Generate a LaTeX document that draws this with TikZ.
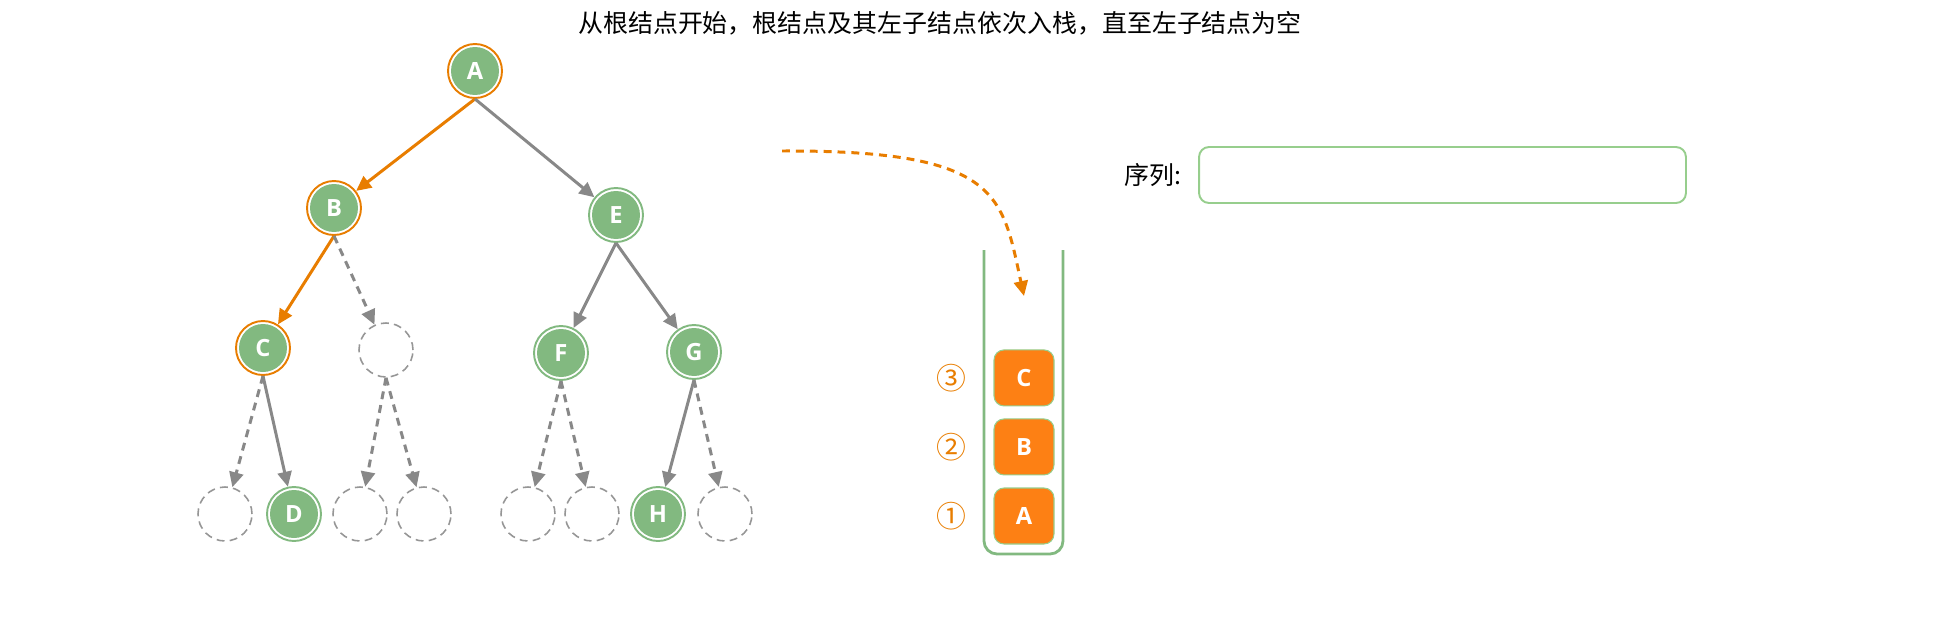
\documentclass[tikz,border=0pt]{standalone}
\usepackage{fontspec}
\setsansfont{Open Sans}
\newfontfamily\cjk{Noto Sans CJK SC}
\usepackage{tikz}
\usetikzlibrary{calc,positioning,arrows.meta}
\definecolor{nodegreen}{RGB}{130,185,128}
\definecolor{lineorange}{RGB}{232,125,0}
\definecolor{boxorange}{RGB}{253,128,20}
\definecolor{edgegrey}{RGB}{136,136,136}
\definecolor{emptygrey}{RGB}{150,150,150}
\definecolor{boxgreen}{RGB}{151,206,141}

\begin{document}
\begin{tikzpicture}[x=0.02cm,y=-0.02cm,node distance=0.24cm and 0.24cm]

\tikzset{treenode/.style={circle,inner sep=0pt,minimum size=1.08cm,fill=white,draw=#1,line width=1.1pt,text=white,font=\sffamily\bfseries\fontsize{13.5}{13.5}\selectfont,path picture={\fill[nodegreen] (path picture bounding box.center) circle (0.48cm);}},
emptynode/.style={circle,inner sep=0pt,minimum size=1.08cm,draw=emptygrey,line width=0.9pt,dash pattern=on 4.5pt off 3pt},
stacknode/.style={rectangle,rounded corners=0.2cm,minimum width=1.2cm,minimum height=1.12cm,fill=boxorange,draw=boxgreen,line width=0.6pt,text=white,font=\sffamily\bfseries\fontsize{13.5}{13.5}\selectfont},
treeedge/.style={color=edgegrey,line width=1.7pt,-{Triangle[length=0.3cm,width=0.28cm]}},
dashededge/.style={treeedge,dash pattern=on 4.5pt off 3.4pt},
pusharrow/.style={color=lineorange,line width=1.7pt,dash pattern=on 4.5pt off 3.4pt,-{Triangle[length=0.3cm,width=0.28cm]}},
numlabel/.style={text=lineorange,font=\cjk\fontsize{17}{17}\selectfont},
textnode/.style={font=\cjk\fontsize{14.2}{17}\selectfont}}

\useasboundingbox (0,0) rectangle (1948,616);

% Title
\node[textnode] (title) at (940,23) {从根结点开始，根结点及其左子结点依次入栈，直至左子结点为空};

% Tree nodes
\node[treenode=lineorange] (A) at (475,71) {A};
\node[treenode=lineorange] (B) at (334,208) {B};
\node[treenode=nodegreen] (E) at (616,215) {E};
\node[treenode=lineorange] (C) at (263,348) {C};
\node[emptynode] (e1) at (386,350) {};
\node[treenode=nodegreen] (F) at (561,353) {F};
\node[treenode=nodegreen] (G) at (694,352) {G};
\node[treenode=nodegreen] (D) at (294,514) {D};
\node[treenode=nodegreen] (H) at (658,514) {H};

% Empty children
\foreach \n/\x in {2/225,3/360,4/424,5/528,6/592,7/725} \node[emptynode] (e\n) at (\x,514) {};

% Edges
\foreach \p/\c in {A/B,B/C} \draw[treeedge,color=lineorange] (\p.south) -- (\c);
\foreach \p/\c in {A/E,E/F,E/G,C/D,G/H} \draw[treeedge] (\p.south) -- (\c);
\foreach \p/\c in {B/e1,C/e2,e1/e3,e1/e4,F/e5,F/e6,G/e7} \draw[dashededge] (\p.south) -- (\c);

% Stack
\draw[nodegreen,line width=1.6pt,rounded corners=0.26cm] (984,250) -- (984,554) -- (1063,554) -- (1063,250);
\node[stacknode] (sA) at (1024,516) {A};
\node[stacknode,above=of sA] (sB) {B};
\node[stacknode,above=of sB] (sC) {C};
\foreach \s/\n in {sA/①,sB/②,sC/③} \node[numlabel] at ($(\s)+(-73,0)$) {\n};

% Push arrow
\coordinate (pushstart) at (782,151);
\coordinate (pushend) at (1024,296);
\draw[pusharrow] (pushstart) .. controls (1000,150) and (1002,195) .. (pushend);

% Sequence
\node[textnode,anchor=east] (seqlabel) at (1188,175) {序列:};
\node[rectangle,rounded corners=0.2cm,minimum width=9.74cm,minimum height=1.12cm,draw=boxgreen,line width=1.1pt] (seq) at (1442.5,175) {};

\end{tikzpicture}
\end{document}
